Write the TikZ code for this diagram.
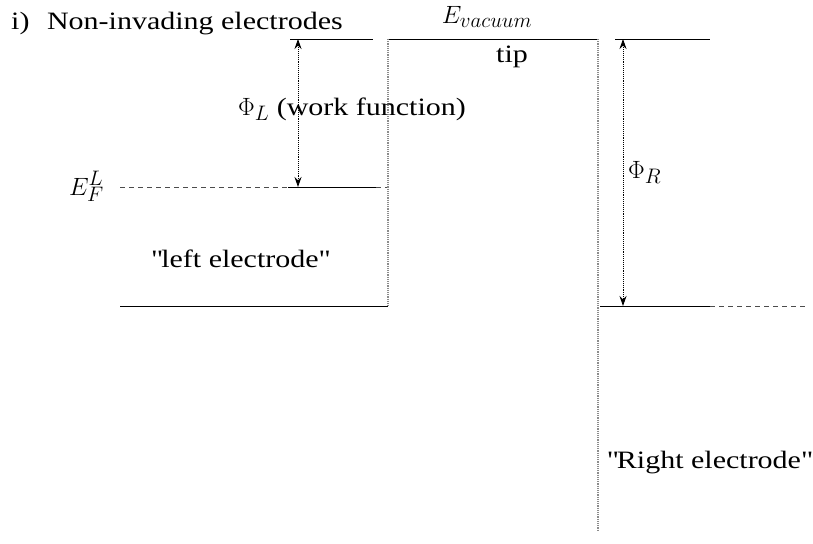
\documentclass[tikz,border=0pt]{standalone}
\usepackage{fix-cm}
\usepackage{fontspec}
\setmainfont{Liberation Serif}[FakeStretch=1.2]
\usetikzlibrary{arrows.meta}
\newcommand\bsub[1]{\mbox{\fontsize{21}{23}\selectfont$#1$}}
\begin{document}
\begin{tikzpicture}[x=1pt,y=-1pt,
  level/.style={line width=0.8pt,black},
  fermidash/.style={line width=0.7pt,black!70,dash pattern=on 5pt off 4pt},
  wall/.style={line width=1.2pt,black!45,densely dotted},
  phiarrow/.style={line width=0.9pt,densely dotted,{Stealth[length=10pt,width=7pt]}-{Stealth[length=10pt,width=7pt]}},
  lbl/.style={font=\fontsize{25}{29}\selectfont,inner sep=0pt}]
\useasboundingbox (0,0) rectangle (813,543);
% coordinates
\coordinate (lvacL) at (290,39);
\coordinate (lvacR) at (373,39);
\coordinate (tipTL) at (388,39);
\coordinate (tipTR) at (598,39);
\coordinate (tipBL) at (388,306);
\coordinate (rwallB) at (598,530);
\coordinate (rvacL) at (615,39);
\coordinate (rvacR) at (710,39);
\coordinate (lfL) at (120,187);
\coordinate (lfM) at (288,187);
\coordinate (lfR) at (376,187);
\coordinate (lfT) at (388,187);
\coordinate (lbL) at (120,306);
\coordinate (rfL) at (600,306);
\coordinate (rfM) at (710,306);
\coordinate (rfR) at (806,306);
\coordinate (aLt) at (298,39);
\coordinate (aLb) at (298,187);
\coordinate (aRt) at (623,39);
\coordinate (aRb) at (623,306);
% levels
\draw[level] (lvacL) -- (lvacR);
\draw[level] (tipTL) -- (tipTR);
\draw[level] (rvacL) -- (rvacR);
\draw[fermidash] (lfL) -- (lfM);
\draw[level] (lfM) -- (lfR);
\draw[fermidash] (lfR) -- (lfT);
\draw[level] (lbL) -- (tipBL);
\draw[level] (rfL) -- (rfM);
\draw[fermidash] (rfM) -- (rfR);
% walls
\draw[wall] (tipTL) -- (tipBL);
\draw[wall] (tipTR) -- (rwallB);
% arrows
\draw[phiarrow] (aLt) -- (aLb);
\draw[phiarrow] (aRt) -- (aRb);
% labels
\node[lbl,anchor=base west] (title) at (11,30) {i)\hspace{0.7em}Non-invading electrodes};
\node[lbl,anchor=base] (evac) at (487,24) {$E_{\bsub{vacuum}}$};
\node[lbl,anchor=base] (tip) at (512,63) {tip};
\node[lbl,anchor=base] (phiL) at (352,115) {$\Phi_{\bsub{L}}$ (work function)};
\node[lbl,anchor=base east] (efl) at (104,195) {$E^{\bsub{L}}_{\bsub{F}}$};
\node[lbl,anchor=base] (left) at (240,267) {\textquotedbl left electrode\textquotedbl};
\node[lbl,anchor=base west] (phiR) at (628,178) {$\Phi_{\bsub{R}}$};
\node[lbl,anchor=base] (right) at (709,468) {\textquotedbl Right electrode\textquotedbl};
\end{tikzpicture}
\end{document}
